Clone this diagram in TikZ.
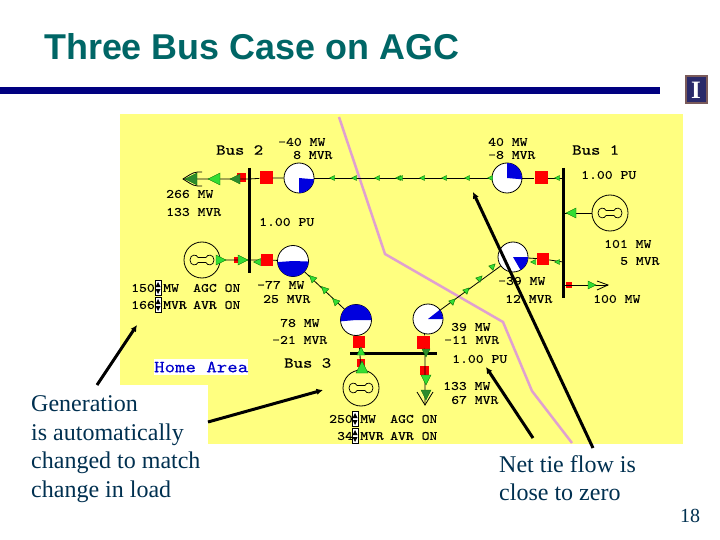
\documentclass[tikz,border=0pt]{standalone}
\usepackage{fontspec}
\setmainfont{Liberation Serif}
\newfontfamily\titlefont{Liberation Sans}
\newfontfamily\onelinefont[FakeStretch=1.17,FakeBold=0.3]{lmmono10-regular.otf}
\usetikzlibrary{
    arrows.meta
}
\definecolor{oneline}{HTML}{FFFF80}
\definecolor{tieline}{HTML}{E0A0D0}
\definecolor{slidetitle}{HTML}{006666}
\definecolor{slidenavy}{HTML}{000080}
\definecolor{callout}{HTML}{003050}
\definecolor{flowgreen}{HTML}{33DD33}
\definecolor{flowdark}{HTML}{2E8B2E}
\definecolor{crest}{HTML}{7A5A5A}
\definecolor{crestfill}{HTML}{2A2A6A}
\tikzset{
    lbl/.style={anchor=west,inner sep=0pt,font=\onelinefont\fontsize{12.8}{13}\selectfont},
    buslbl/.style={anchor=west,inner sep=0pt,font=\onelinefont\fontsize{15.3}{16}\selectfont},
    note/.style={anchor=west,inner sep=0pt,align=left,text=callout,font=\fontsize{24}{28.6}\selectfont},
    breaker/.style={fill=red,inner sep=0pt,minimum size=#1},
    pie/.style={circle,draw,inner sep=0pt,line width=0.8pt,fill=white},
    gen/.style={circle,draw,inner sep=0pt,line width=0.8pt,minimum size=36pt},
    bus/.style={line width=3pt},
    wire/.style={line width=0.8pt},
    pointer/.style={line width=3pt,-{Latex[length=6.5pt,width=6.5pt]}},
    genbone/.pic={
        \draw[line width=0.7pt] (-4,-2.5) -- (4,-2.5) .. controls (5,-6) and (12,-6) .. (12,0)
            .. controls (12,6) and (5,6) .. (4,2.5) -- (-4,2.5)
            .. controls (-5,6) and (-12,6) .. (-12,0) .. controls (-12,-6) and (-5,-6) .. (-4,-2.5) -- cycle;
    }
}
% flow triangle: position, direction, half size
\newcommand{\flowtip}[4][flowgreen]{
    \draw[fill=#1,draw=green!45!black,line width=0.4pt,shift={(#2)},rotate=#3,scale=#4]
        (-1,-1) -- (1,0) -- (-1,1) -- cycle;
}
% pie: name, position, radius, start and end angle
\newcommand{\flowpie}[5]{
    \node[pie,minimum size=2*#3] (#1) at (#2) {};
    \fill[blue!87!black] (#1.center) -- ++(#4:#3) arc (#4:#5:#3) -- cycle;
}
% up and down box
\newcommand{\spinbox}[2]{
    \node[draw,fill=white,inner sep=0pt,minimum width=6pt,minimum height=15pt,line width=0.5pt] (#1) at (#2) {};
    \fill (#1.center) ++(-2.5,-1) -- ++(5,0) -- ++(-2.5,-5) -- cycle;
    \fill (#1.center) ++(-2.5,1) -- ++(5,0) -- ++(-2.5,5) -- cycle;
}
\begin{document}
\begin{tikzpicture}[x=1pt,y=-1pt]
\useasboundingbox (0,0) rectangle (720,540);
\fill[white] (0,0) rectangle (720,540);

\node[anchor=west,inner sep=0pt,text=slidetitle,font=\titlefont\bfseries\fontsize{35.9}{36}\selectfont] (title) at (44,47) {Three Bus Case on AGC};
\fill[slidenavy] (0,87) rectangle (660,94);
\node[draw=crest,line width=2pt,fill=crestfill,minimum width=21pt,minimum height=27pt,inner sep=0pt,text=white,font=\bfseries\fontsize{25}{25}\selectfont] (crest) at (696,90) {I};

\fill[oneline] (120,114) rectangle (683,444);
\draw[tieline,line width=2.5pt] (339,117) -- (385,254) -- (503,322) -- (532,391) -- (572,443);

% bus bars
\coordinate (bus2top) at (249,168);
\coordinate (bus2bot) at (249,273);
\coordinate (bus1top) at (563,168);
\coordinate (bus1bot) at (563,298);
\coordinate (bus3lft) at (350,353);
\coordinate (bus3rgt) at (437,353);
\draw[bus] (bus2top) -- (bus2bot);
\draw[bus] (bus1top) -- (bus1bot);
\draw[bus] (bus3lft) -- (bus3rgt);

% pies
\flowpie{pieA}{299,178}{15}{5}{90}
\flowpie{pieB}{507,178}{15}{-90}{5}
\flowpie{pieC}{293,261}{15.5}{2}{176}
\flowpie{pieD}{513,257}{15}{0}{60}
\flowpie{pieE}{356,320}{15.5}{175}{360}
\flowpie{pieF}{428,319}{15}{-38}{0}

% breakers
\node[breaker=13pt] (brkA) at (266,178) {};
\node[breaker=9pt] (brkB) at (241,178) {};
\node[breaker=12pt] (brkC) at (267,260) {};
\node[breaker=6pt] (brkD) at (237,260) {};
\node[breaker=13pt] (brkE) at (541,178) {};
\node[breaker=12pt] (brkF) at (543,259) {};
\node[breaker=6pt] (brkG) at (569,285) {};
\node[breaker=12pt] (brkH) at (359,342) {};
\node[breaker=8pt] (brkI) at (361,363) {};
\node[breaker=13pt] (brkJ) at (423,342) {};
\node[breaker=9pt] (brkK) at (424,370) {};

% generators
\node[gen] (genA) at (202,260) {};
\node[gen] (genB) at (610,213) {};
\node[gen] (genC) at (361,388) {};
\pic at (genA) {genbone};
\pic at (genB) {genbone};
\pic at (genC) {genbone};

% loads
\coordinate (loadA) at (183,179);
\coordinate (loadB) at (608,285);
\coordinate (loadC) at (425,405);
\coordinate (bus2a) at (249,179);
\coordinate (bus2b) at (249,260);
\coordinate (bus1a) at (563,178);
\coordinate (bus1b) at (563,213);
\coordinate (bus1c) at (563,262);
\coordinate (bus1d) at (563,285);
\coordinate (bus3a) at (360,353);
\coordinate (bus3b) at (425,353);

\draw[wire] (loadA) -- (bus2a) -- (brkA) -- (pieA);
\draw[wire] (pieA) -- (pieB) -- (brkE) -- (bus1a);
\draw[wire] (genA) -- (bus2b) -- (brkC) -- (pieC);
\draw[wire] (pieC) -- (pieE);
\draw[wire] (pieD) -- (pieF);
\draw[wire] (pieD) -- (brkF) -- (bus1c);
\draw[wire] (genB) -- (bus1b);
\draw[wire] (bus1d) -- (loadB);
\draw[wire] (pieE) -- (brkH) -- (bus3a) -- (genC);
\draw[wire] (pieF) -- (brkJ) -- (bus3b) -- (loadC);
\draw[wire] (202,172) .. controls (194,172) .. (loadA) .. controls (194,186) .. (202,186);
\draw[wire] (597,281) -- (loadB) -- (597,290);
\draw[wire] (417,392) -- (loadC) -- (433,392);

% flows
\foreach \xpos in {332,354,377,398,400,422,444,467,490,557}
    {\flowtip{\xpos,178}{180}{2.5}}
\flowtip[flowdark]{191,179}{180}{6}
\flowtip{214,179}{180}{6}
\flowtip[flowdark]{235,179}{180}{5}
\flowtip{221,260}{0}{5}
\flowtip{243,260}{0}{5}
\flowtip{257,262}{180}{3.5}
\flowtip{571,213}{180}{5}
\flowtip{592,285}{0}{4}
\flowtip{533,262}{180}{2.5}
\flowtip{557,262}{180}{2.5}
\foreach \xpos/\ypos in {312/278,324/289,335/301}
    {\flowtip{\xpos,\ypos}{135}{3.5}}
\foreach \xpos/\ypos in {453/301,467/290,480/278,493/266}
    {\flowtip{\xpos,\ypos}{45}{3}}
\flowtip{362,367}{90}{6}
\flowtip{361,351}{90}{4}
\flowtip[flowdark]{426,353}{-90}{4}
\flowtip{426,380}{-90}{5}
\flowtip[flowdark]{426,395}{-90}{5}

% labels
\node[buslbl] (lblBusB) at (216,150) {Bus 2};
\node[buslbl] (lblBusA) at (572,150) {Bus 1};
\node[buslbl] (lblBusC) at (284,363) {Bus 3};
\node[lbl] (lblA) at (278,142) {-40 MW};
\node[lbl] (lblB) at (293,155) {8 MVR};
\node[lbl] (lblC) at (488,142) {40 MW};
\node[lbl] (lblD) at (488,155) {-8 MVR};
\node[lbl] (lblE) at (581,175) {1.00 PU};
\node[lbl] (lblF) at (166,194) {266 MW};
\node[lbl] (lblG) at (166,212) {133 MVR};
\node[lbl] (lblH) at (259,222) {1.00 PU};
\node[lbl] (lblI) at (604,244) {101 MW};
\node[lbl] (lblJ) at (620,261) {5 MVR};
\node[lbl] (lblK) at (498,281) {-39 MW};
\node[lbl] (lblL) at (505,299) {12 MVR};
\node[lbl] (lblM) at (593,299) {100 MW};
\node[lbl] (lblN) at (257,285) {-77 MW};
\node[lbl] (lblO) at (263,299) {25 MVR};
\node[lbl] (lblP) at (280,323) {78 MW};
\node[lbl] (lblQ) at (272,340) {-21 MVR};
\node[lbl] (lblR) at (451,327) {39 MW};
\node[lbl] (lblS) at (444,340) {-11 MVR};
\node[lbl] (lblT) at (452,359) {1.00 PU};
\node[lbl] (lblU) at (443,386) {133 MW};
\node[lbl] (lblV) at (451,400) {67 MVR};
\node[lbl] (lblW) at (131,288) {150};
\node[lbl] (lblX) at (163,288) {MW};
\node[lbl] (lblY) at (193,288) {AGC ON};
\node[lbl] (lblZ) at (131,305) {166};
\node[lbl] (lblAA) at (163,305) {MVR};
\node[lbl] (lblAB) at (193,305) {AVR ON};
\node[lbl] (lblAC) at (329,419) {250};
\node[lbl] (lblAD) at (360,419) {MW};
\node[lbl] (lblAE) at (390,419) {AGC ON};
\node[lbl] (lblAF) at (337,436) {34};
\node[lbl] (lblAG) at (360,436) {MVR};
\node[lbl] (lblAH) at (390,436) {AVR ON};
\spinbox{spinA}{158,288}
\spinbox{spinB}{158,305}
\spinbox{spinC}{355,419}
\spinbox{spinD}{355,436}
\node[buslbl,fill=white,text=blue!80!black,minimum width=94pt,minimum height=16pt,font=\onelinefont\fontsize{17}{17}\selectfont] (lblHome) at (154,367) {Home Area};

% callouts
\fill[white] (20,385) rectangle (208,444);
\node[note] (noteGen) at (31,449) {Generation\\is automatically\\changed to match\\change in load};
\node[note] (noteTie) at (499,478) {Net tie flow is\\close to zero};
\node[anchor=west,inner sep=0pt,text=callout,font=\fontsize{20}{20}\selectfont] (pageno) at (680,516) {18};

\coordinate (tailA) at (97,385);
\coordinate (headA) at (137,325);
\coordinate (tailB) at (208,422);
\coordinate (headB) at (323,390);
\coordinate (tailC) at (593,448);
\coordinate (headC) at (473,192);
\coordinate (tailD) at (533,438);
\coordinate (headD) at (486,367);
\draw[pointer] (tailA) -- (headA);
\draw[pointer] (tailB) -- (headB);
\draw[pointer] (tailC) -- (headC);
\draw[pointer] (tailD) -- (headD);
\end{tikzpicture}
\end{document}
